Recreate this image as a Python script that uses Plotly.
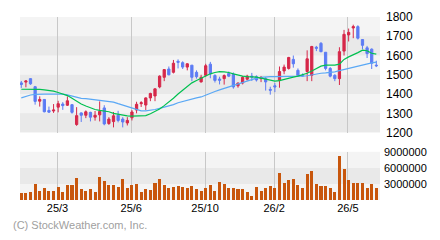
import plotly.graph_objects as go

# ---- data (weekly candles) ----
opens = [1458,1462,1480,1438,1363,1372,1315,1312,1332,1348,1342,1345,1242,1302,1290,1305,1280,1292,1328,1247,
         1257,1290,1270,1250,1277,1317,1350,1343,1380,1390,1437,1487,1530,1513,1570,1563,1540,1550,1513,1463,
         1497,1555,1496,1478,1480,1507,1503,1443,1457,1477,1493,1490,1480,1480,1424,1443,1470,1520,1533,1580,
         1523,1497,1517,1497,1643,1663,1617,1533,1497,1480,1623,1707,1743,1750,1683,1640,1633,1550]
highs = [1468,1472,1482,1442,1388,1374,1335,1348,1365,1358,1388,1347,1332,1305,1315,1308,1312,1362,1342,1280,
         1307,1313,1280,1280,1317,1360,1363,1383,1407,1430,1497,1530,1543,1577,1580,1570,1560,1550,1523,1500,
         1557,1567,1503,1490,1502,1517,1512,1460,1493,1500,1510,1497,1493,1488,1438,1457,1543,1553,1593,1600,
         1533,1507,1627,1650,1650,1670,1617,1540,1503,1643,1733,1740,1760,1757,1683,1650,1637,1573]
lows = [1432,1435,1448,1345,1335,1305,1302,1302,1305,1318,1338,1298,1235,1255,1275,1258,1262,1258,1238,1240,
        1227,1253,1227,1237,1263,1300,1333,1317,1363,1363,1430,1467,1497,1507,1533,1530,1523,1467,1480,1460,
        1490,1482,1460,1450,1449,1488,1428,1433,1450,1470,1468,1465,1462,1418,1397,1410,1433,1503,1527,1537,
        1490,1490,1467,1467,1623,1617,1523,1487,1467,1447,1600,1673,1690,1683,1633,1587,1530,1540]
closes = [1450,1468,1453,1362,1372,1308,1306,1317,1350,1340,1365,1305,1288,1290,1308,1280,1290,1310,1245,1270,
          1287,1263,1255,1263,1307,1347,1355,1380,1403,1427,1493,1527,1500,1560,1565,1540,1557,1487,1490,1487,
          1547,1505,1471,1472,1496,1493,1437,1457,1487,1493,1488,1473,1487,1463,1420,1437,1517,1540,1590,1557,
          1497,1494,1583,1647,1638,1620,1533,1493,1480,1620,1710,1720,1750,1690,1653,1610,1560,1547]
volumes_m = [1.3,1.3,1.45,3.1,1.8,2.2,1.65,1.65,2.5,1.45,2.9,2.9,4.2,2.0,1.65,2.0,1.45,4.35,3.5,2.75,
             2.75,2.4,4.0,2.2,2.75,3.1,1.5,2.05,1.85,3.3,4.0,2.75,2.2,2.55,2.6,2.4,2.2,2.6,2.05,1.65,
             2.2,2.9,1.75,3.45,3.0,2.35,2.35,2.0,2.0,1.44,0.72,2.5,1.8,2.3,2.7,2.3,5.0,3.2,3.7,3.9,
             2.9,2.2,4.9,5.4,3.1,2.7,2.7,2.2,1.44,8.3,5.9,3.8,3.2,3.2,3.2,2.3,3.1,2.3]
ma_short = [1425,1425,1426,1426,1424,1422,1420,1415,1408,1400,1392,1378,1362,1348,1338,1328,1320,1315,1312,1308,
            1300,1295,1290,1287,1285,1285,1285,1288,1298,1310,1322,1340,1358,1378,1400,1420,1440,1458,1470,1483,
            1495,1505,1512,1516,1515,1512,1505,1498,1493,1490,1490,1488,1483,1478,1470,1467,1470,1477,1482,1488,
            1493,1500,1508,1520,1533,1545,1550,1550,1550,1555,1580,1593,1603,1615,1628,1625,1612,1607]
ma_long = [1380,1388,1395,1398,1400,1400,1400,1401,1402,1400,1396,1390,1382,1378,1376,1373,1370,1368,1366,1362,
           1358,1350,1343,1335,1328,1318,1313,1313,1315,1320,1326,1332,1338,1345,1355,1362,1368,1373,1380,1385,
           1393,1403,1413,1422,1430,1438,1445,1452,1460,1468,1478,1483,1487,1490,1490,1490,1490,1490,1490,1490,
           1492,1493,1495,1500,1505,1508,1510,1512,1515,1522,1528,1535,1540,1545,1550,1556,1562,1566]
tick_labels = ["25/3", "25/6", "25/10", "26/2", "26/5"]
tick_index = [7.85, 23.85, 39.85, 54.85, 70.85]
price_ticks = [1200, 1300, 1400, 1500, 1600, 1700, 1800]
vol_ticks = [3000000, 6000000, 9000000]

idx = list(range(len(opens)))
volumes = [v * 1e6 for v in volumes_m]

RED = "#d6284a"
BLUE = "#5d7cf4"
LIGHT = "#f4f4f4"
DARK = "#e9e9e9"

fig = go.Figure()
fig.add_trace(go.Scatter(x=idx, y=ma_long, mode="lines", line=dict(color="#5aa8f5", width=1.2),
                         xaxis="x", yaxis="y", hoverinfo="skip"))
fig.add_trace(go.Scatter(x=idx, y=ma_short, mode="lines", line=dict(color="#00c050", width=1.2),
                         xaxis="x", yaxis="y", hoverinfo="skip"))
fig.add_trace(go.Candlestick(
    x=idx, open=opens, high=highs, low=lows, close=closes,
    increasing=dict(line=dict(color=RED, width=1), fillcolor=RED),
    decreasing=dict(line=dict(color=BLUE, width=1), fillcolor=BLUE),
    xaxis="x", yaxis="y"))
fig.add_trace(go.Bar(x=idx, y=volumes, marker=dict(color="#c8560c", line=dict(width=0)),
                     width=0.66, xaxis="x2", yaxis="y2"))

shapes = []
for lo in (1200, 1400, 1600):
    shapes.append(dict(type="rect", xref="x domain", yref="y", x0=0, x1=1, y0=lo, y1=lo + 100,
                       fillcolor=DARK, line=dict(width=0), layer="below"))
shapes.append(dict(type="rect", xref="x2 domain", yref="y2", x0=0, x1=1, y0=3000000, y1=6000000,
                   fillcolor=DARK, line=dict(width=0), layer="below"))
fig.update_layout(shapes=shapes)

xr = [-0.28, 77.8]
common_x = dict(range=xr, showgrid=True, gridcolor="#c8c8c8", gridwidth=1, zeroline=False,
                tickmode="array", tickvals=tick_index, ticks="", showline=False, fixedrange=True)

fig.update_layout(
    width=440, height=240,
    margin=dict(l=20, r=60, t=10, b=40),
    paper_bgcolor="white", plot_bgcolor=LIGHT,
    showlegend=False,
    bargap=0,
    font=dict(family="Liberation Sans, Arial, sans-serif", size=11, color="#000000"),
    xaxis=dict(**common_x, domain=[0, 1], anchor="y", showticklabels=False,
               rangeslider=dict(visible=False)),
    xaxis2=dict(**common_x, domain=[0, 1], anchor="y2", ticktext=tick_labels, showticklabels=True,
                tickfont=dict(size=11, color="#000")),
    yaxis=dict(domain=[0.3684, 1], range=[1200, 1800], side="right", showgrid=False, zeroline=False,
               tickmode="array", tickvals=price_ticks, ticktext=[str(v) for v in price_ticks],
               ticks="", ticklabelstandoff=5, tickfont=dict(size=12, color="#000"), fixedrange=True),
    yaxis2=dict(domain=[0, 0.2632], range=[0, 9000000], side="right", showgrid=False, zeroline=False,
                tickmode="array", tickvals=vol_ticks, ticktext=[str(v) for v in vol_ticks],
                ticks="", ticklabelstandoff=3, tickfont=dict(size=11, color="#000"), fixedrange=True),
    annotations=[dict(text="(C) StockWeather.com, Inc.", xref="paper", yref="paper",
                      x=-0.025, y=-0.137, xanchor="left", yanchor="middle", showarrow=False,
                      font=dict(size=11, color="#a0a0a0"))],
)

fig.write_html("out.html")
